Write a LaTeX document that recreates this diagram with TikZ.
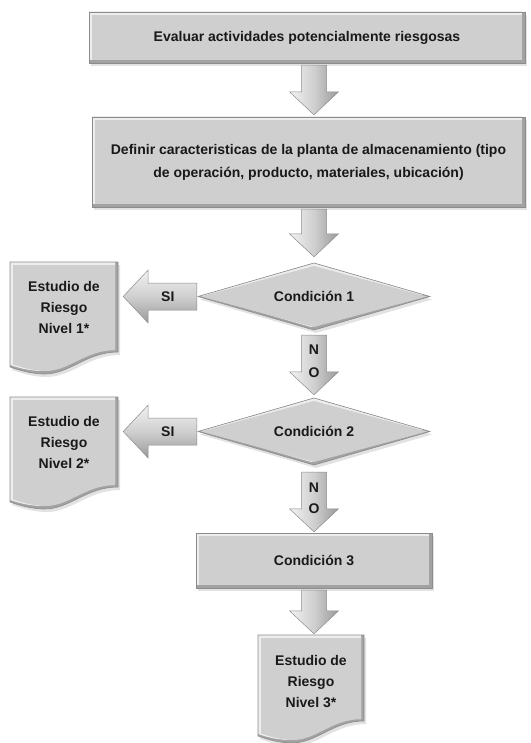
\documentclass[tikz,border=0pt]{standalone}
\usepackage{fontspec}
\setmainfont{Liberation Sans}
\usetikzlibrary{calc}
\definecolor{bfill}{HTML}{CFCFCF}
\definecolor{blight}{HTML}{EDEDED}
\definecolor{bdark}{HTML}{A2A2A2}
\definecolor{bline}{HTML}{8C8C8C}
\definecolor{bshadow}{HTML}{E2E2E2}
\definecolor{alight}{HTML}{F2F2F2}
\definecolor{adark}{HTML}{9A9A9A}
\tikzset{
  txt/.style={inner sep=0pt, align=center, text=black!90,
    font=\bfseries\fontsize{14}{21}\selectfont},
  lbl/.style={inner sep=0pt, text=black!90, font=\bfseries\fontsize{14}{16}\selectfont},
  varrow/.style={left color=alight, right color=adark, middle color=bfill, draw=bline, line width=0.5pt},
  harrow/.style={top color=alight, bottom color=adark, middle color=bfill, draw=bline, line width=0.5pt},
}
% bevelled shape: #1 numeric path, #2 cx, #3 cy, #4 w, #5 h
\newcommand\bevelshape[5]{%
  \pgfmathsetmacro\bxs{(#4-6)/#4}%
  \pgfmathsetmacro\bys{(#5-6)/#5}%
  \fill[bshadow, shift={(2,3)}] #1;
  \fill[bdark] #1;
  \begin{scope}
    \clip #1;
    \fill[blight, shift={(-3,-3)}] #1;
  \end{scope}
  \fill[bfill, shift={(#2,#3)}, xscale=\bxs, yscale=\bys, shift={(-#2,-#3)}] #1;
  \draw[bline, line width=0.6pt] #1;
}
\newcommand\docpath[4]{(#1,#2) -- ({#1+#3},#2) -- ({#1+#3},{#2+#4})
  .. controls ({#1+0.7*#3},{#2+#4}) and ({#1+0.55*#3},{#2+#4+23}) .. ({#1+0.3*#3},{#2+#4+22})
  .. controls ({#1+0.15*#3},{#2+#4+21}) and ({#1+0.06*#3},{#2+#4+17}) .. (#1,{#2+#4+15}) -- cycle}
\newcommand\docshape[4]{%
  \pgfmathsetmacro\dcx{#1+#3/2}%
  \pgfmathsetmacro\dcy{#2+(#4+22)/2}%
  \pgfmathsetmacro\dH{#4+22}%
  \bevelshape{\docpath{#1}{#2}{#3}{#4}}{\dcx}{\dcy}{#3}{\dH}%
}
\newcommand\fatdown[2]{%
  \path[varrow] ($(#1)+(-12.5,0)$) -- ($(#2)+(-12.5,-23)$) -- ($(#2)+(-24.5,-23)$) -- (#2)
    -- ($(#2)+(24.5,-23)$) -- ($(#2)+(12.5,-23)$) -- ($(#1)+(12.5,0)$) -- cycle;}
\newcommand\fatleft[2]{%
  \path[harrow] ($(#1)+(0,-13.5)$) -- ($(#2)+(25,-13.5)$) -- ($(#2)+(25,-26.5)$) -- (#2)
    -- ($(#2)+(25,26.5)$) -- ($(#2)+(25,13.5)$) -- ($(#1)+(0,13.5)$) -- cycle;}
\begin{document}
\begin{tikzpicture}[x=1pt,y=-1pt]
\useasboundingbox[fill=white] (0,0) rectangle (530,743);

% shapes
\bevelshape{(89,12) rectangle (525,63)}{307}{37.5}{436}{51}
\bevelshape{(92,117) rectangle (525,207)}{308.5}{162}{433}{90}
\bevelshape{(198,296.5) -- (314,263) -- (430,296.5) -- (314,330) -- cycle}{314}{296.5}{232}{67}
\bevelshape{(198,431.5) -- (314,398) -- (430,431.5) -- (314,465) -- cycle}{314}{431.5}{232}{67}
\bevelshape{(196,533) rectangle (432,588)}{314}{560.5}{236}{55}
\docshape{10}{262}{108}{90}
\docshape{10}{397}{108}{90}
\docshape{258}{635}{106}{86}

% text nodes
\node[txt, minimum width=436pt, minimum height=51pt] (b1) at (307,37.5)
  {Evaluar actividades potencialmente riesgosas};
\node[txt, minimum width=433pt, minimum height=90pt, font=\bfseries\fontsize{14}{23}\selectfont] (b2) at (308.5,162)
  {Definir caracteristicas de la planta de almacenamiento (tipo\\de operación, producto, materiales, ubicación)};
\node[txt, minimum width=232pt, minimum height=67pt] (d1) at (314,296.5) {Condición 1};
\node[txt, minimum width=232pt, minimum height=67pt] (d2) at (314,431.5) {Condición 2};
\node[txt, minimum width=236pt, minimum height=55pt] (b3) at (314,560.5) {Condición 3};
\node[txt, minimum width=108pt, minimum height=90pt] (s1) at (64,307) {Estudio de\\Riesgo\\Nivel 1*};
\node[txt, minimum width=108pt, minimum height=90pt] (s2) at (64,442) {Estudio de\\Riesgo\\Nivel 2*};
\node[txt, minimum width=106pt, minimum height=90pt] (s3) at (311,681) {Estudio de\\Riesgo\\Nivel 3*};

% arrow end points
\coordinate (c1) at (b1.south -| d1.north);
\coordinate (c2) at (b2.north -| d1.north);
\coordinate (c3) at (b2.south -| d1.north);
\coordinate (c4) at (s1.east |- d1.west);
\coordinate (c5) at (s2.east |- d2.west);
\coordinate (c6) at (s3.north -| b3.south);

% connectors
\fatdown{$(c1)+(0,2)$}{$(c2)+(0,-2)$}
\fatdown{$(c3)+(0,2)$}{$(d1.north)+(0,-6)$}
\fatdown{$(d1.south)+(0,5)$}{$(d2.north)+(0,-3)$}
\fatdown{$(d2.south)+(0,7)$}{$(b3.north)+(0,-1)$}
\fatdown{$(b3.south)+(0,2)$}{$(c6)+(0,-2)$}
\fatleft{$(d1.west)+(-1,0)$}{$(c4)+(5,0)$}
\fatleft{$(d2.west)+(-1,0)$}{$(c5)+(5,0)$}

% labels
\node[lbl] (si1) at ($(d1.west)+(-30,0)$) {SI};
\node[lbl] (si2) at ($(d2.west)+(-30,0)$) {SI};
\node[lbl] (n1) at ($(d1.south)+(0,19)$) {N};
\node[lbl] (o1) at ($(d1.south)+(0,42)$) {O};
\node[lbl] (n2) at ($(d2.south)+(0,22)$) {N};
\node[lbl] (o2) at ($(d2.south)+(0,43)$) {O};
\end{tikzpicture}
\end{document}
